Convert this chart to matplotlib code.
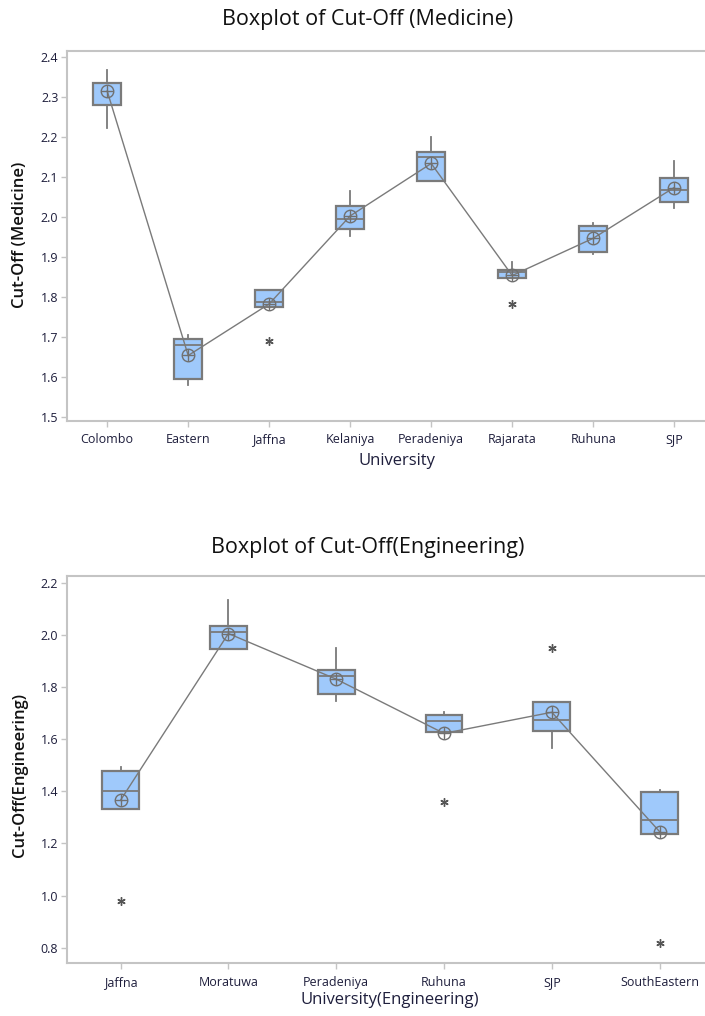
import matplotlib
matplotlib.use("Agg")
import matplotlib.pyplot as plt

plt.rcParams['font.family'] = ['Open Sans', 'DejaVu Sans']

# Medicine cut-off box stats
med_unis = ["Colombo", "Eastern", "Jaffna", "Kelaniya", "Peradeniya", "Rajarata", "Ruhuna", "SJP"]
med_wlo = [2.221, 1.578, 1.775, 1.952, 2.090, 1.847, 1.908, 2.021]
med_q1 = [2.278, 1.593, 1.775, 1.968, 2.090, 1.847, 1.912, 2.036]
med_median = [2.333, 1.678, 1.786, 1.995, 2.149, 1.861, 1.963, 2.067]
med_q3 = [2.335, 1.693, 1.817, 2.026, 2.161, 1.867, 1.976, 2.098]
med_whi = [2.367, 1.704, 1.817, 2.064, 2.200, 1.888, 1.984, 2.140]
med_mean = [2.314, 1.653, 1.782, 2.002, 2.133, 1.853, 1.946, 2.073]
med_out = [[], [], [1.689], [], [], [1.783], [], []]

# Engineering cut-off box stats
eng_unis = ["Jaffna", "Moratuwa", "Peradeniya", "Ruhuna", "SJP", "SouthEastern"]
eng_wlo = [1.333, 1.946, 1.746, 1.628, 1.567, 1.235]
eng_q1 = [1.333, 1.946, 1.773, 1.628, 1.630, 1.235]
eng_median = [1.402, 2.010, 1.842, 1.668, 1.673, 1.291]
eng_q3 = [1.477, 2.034, 1.866, 1.692, 1.741, 1.397]
eng_whi = [1.494, 2.134, 1.948, 1.705, 1.741, 1.406]
eng_mean = [1.366, 2.005, 1.830, 1.622, 1.703, 1.245]
eng_out = [[0.980], [], [], [1.358], [1.951], [0.817]]

W, H = 705, 1016
BOXC = "#9fc9fb"
EDGE = "#7a7a7a"
FRAME = "#c4c4c4"
TXT = "#1e1e3c"


def stats_of(wlo, q1, med, q3, whi, mean, out):
    st = []
    for i in range(len(q1)):
        st.append(dict(whislo=wlo[i], q1=q1[i], med=med[i], q3=q3[i], whishi=whi[i],
                       mean=mean[i], fliers=out[i]))
    return st


def draw(ax, names, stats, means, ylim, yticks, yfmt):
    pos = list(range(len(names)))
    ax.bxp(stats, positions=pos, widths=0.34, patch_artist=True, showcaps=False,
           showmeans=False,
           boxprops=dict(facecolor=BOXC, edgecolor=EDGE, linewidth=1.6),
           medianprops=dict(color=EDGE, linewidth=1.3),
           whiskerprops=dict(color=EDGE, linewidth=1.3),
           flierprops=dict(marker=(6, 2, 0), markersize=6, markeredgecolor="#555555",
                           markeredgewidth=1.0, linestyle="none"))
    ax.plot(pos, means, color="#7a7a7a", lw=1.0, zorder=4)
    ax.plot(pos, means, linestyle="none", marker="o", ms=9, mfc="none",
            mec="#707070", mew=1.0, zorder=5)
    ax.plot(pos, means, linestyle="none", marker="+", ms=9, mec="#707070",
            mew=1.0, zorder=5)
    ax.set_xlim(-0.5, len(names) - 0.5)
    ax.set_ylim(*ylim)
    ax.set_xticks(pos)
    ax.set_xticklabels(names)
    ax.set_yticks(yticks)
    ax.set_yticklabels([yfmt.format(v) for v in yticks])
    for s in ax.spines.values():
        s.set_color(FRAME)
        s.set_linewidth(1.5)
    ax.spines["right"].set_visible(False)
    ax.tick_params(axis="both", direction="out", length=4, width=1, color=FRAME,
                   labelsize=9, labelcolor=TXT)
    ax.tick_params(axis="x", pad=5)
    ax.tick_params(axis="y", pad=2)


fig = plt.figure(figsize=(W / 100, H / 100), dpi=100)

# top panel
ax1 = fig.add_axes([66.7 / W, 1 - 420.7 / H, 648 / W, 370 / H])
draw(ax1, med_unis,
     stats_of(med_wlo, med_q1, med_median, med_q3, med_whi, med_mean, med_out),
     med_mean, (1.49, 2.415), [1.5 + 0.1 * k for k in range(10)], "{:.1f}")
fig.text(368 / W, 1 - 20 / H, "Boxplot of Cut-Off (Medicine)", ha="center", va="center",
         fontsize=15.5, color="#111111")
fig.text(397 / W, 1 - 461 / H, "University", ha="center", va="center", fontsize=12,
         color=TXT)
fig.text(20 / W, 1 - 235 / H, "Cut-Off (Medicine)", ha="center", va="center",
         rotation=90, fontsize=12, fontweight="semibold", color="#111111")

# bottom panel
ax2 = fig.add_axes([66.7 / W, 1 - 963.3 / H, 646.8 / W, 387.3 / H])
draw(ax2, eng_unis,
     stats_of(eng_wlo, eng_q1, eng_median, eng_q3, eng_whi, eng_mean, eng_out),
     eng_mean, (0.740, 2.2257), [0.8 + 0.2 * k for k in range(8)], "{:.1f}")
fig.text(368 / W, 1 - 548 / H, "Boxplot of Cut-Off(Engineering)", ha="center",
         va="center", fontsize=15.5, color="#111111")
fig.text(390 / W, 1 - 1000 / H, "University(Engineering)", ha="center", va="center",
         fontsize=12, color=TXT)
fig.text(20 / W, 1 - 775 / H, "Cut-Off(Engineering)", ha="center", va="center",
         rotation=90, fontsize=12, fontweight="semibold", color="#111111")

fig.savefig("out.png", dpi=100)
